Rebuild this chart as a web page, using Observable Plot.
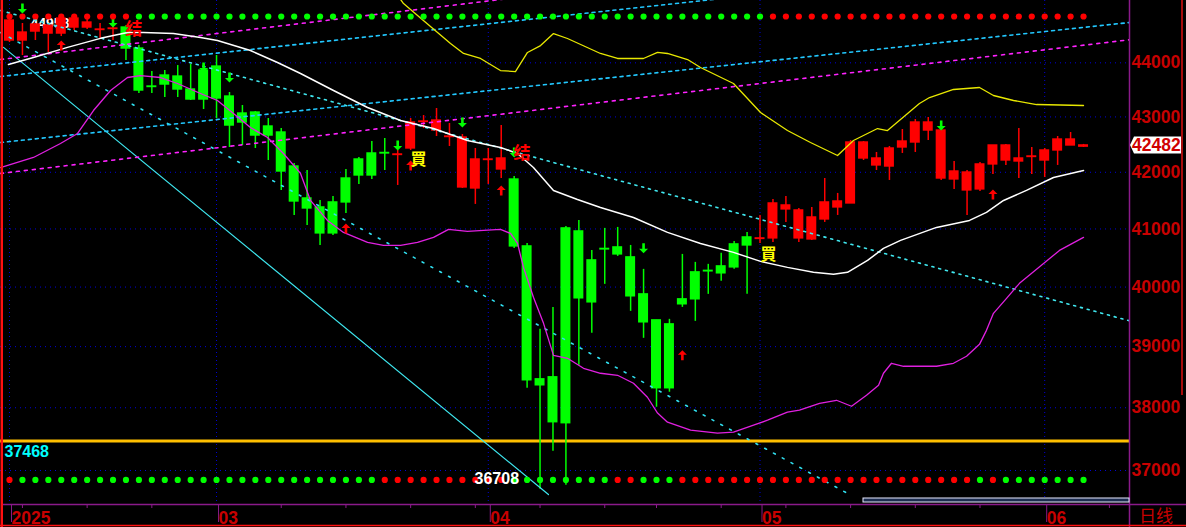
<!DOCTYPE html>
<html><head><meta charset="utf-8">
<script src="https://cdn.jsdelivr.net/npm/d3@7"></script>
<script src="https://cdn.jsdelivr.net/npm/@observablehq/plot@0.6"></script>
<style>
html,body{margin:0;padding:0;background:#000;}
#chart{width:1186px;height:527px;overflow:hidden;}
</style></head><body><div id="chart"></div>
<script>
// ---- daily candles (index 0 = first bar, Feb 2025) ----
const opens  = [44419,44419,44589,44551,44551,44665,44665,44618,44637,44665,44268,43559,43763,43744,43504,43856,43930,43374,43062,43080,42825,42716,42103,41535,41377,41465,41889,42229,42337,42346,42310,42427,42907,42752,42634,41730,41712,42220,42050,41871,40697,38462,38495,41010,40957,40456,40654,40680,40508,39876,39438,39371,39792,40251,40277,40353,40732,40853,40827,40836,41342,40836,40818,41166,41377,41447,42247,42122,42103,42445,42535,42752,41889,41872,41677,41695,42140,42211,42193,42274,42211,42391,42481,42460];
const highs  = [44958,44741,44741,44741,44913,44913,44913,44741,44760,44703,44324,43837,43856,43949,43968,43968,44137,43448,43209,43098,42971,42788,42157,42032,41500,41571,42050,42265,42553,42607,42391,42971,43025,43154,42880,42679,42427,42427,42843,41925,40749,39288,39656,41045,41149,40628,41010,41027,40714,40302,39438,39455,40559,40422,40388,40577,40784,40940,41236,41518,41571,41359,41377,41889,41624,42571,42553,42355,42463,42770,42952,42989,42770,42193,42032,42175,42481,42499,42788,42445,42427,42643,42716,42500];
const lows   = [44381,44137,44419,44194,44494,44608,44627,44438,44419,44043,43430,43430,43356,43356,43301,43135,42970,42445,42481,42427,42211,41677,41236,41062,40714,40888,41271,41783,41872,42032,41765,42391,42788,42643,42463,41712,41430,41783,41889,40662,38316,36708,37304,36770,38692,39221,40046,40525,39589,39138,38008,38251,39656,39421,39876,40097,40302,39876,40749,40766,41114,40766,40801,41114,41236,41447,42211,42032,41854,42337,42355,42571,41854,41695,41236,41659,41961,42122,41889,41961,41907,42122,42481,42445];
const closes = [44798,44570,44722,44703,44836,44836,44760,44627,44646,44268,43485,43550,43596,43504,43319,43319,43338,42843,42898,42661,42661,42014,41482,41359,40923,40923,41465,41943,41943,42337,42319,42898,42916,42934,42643,42625,42229,42229,42247,40697,38446,38364,37767,37751,39809,39741,40645,40559,39843,39405,38316,38316,39708,39792,40268,40234,40336,40714,40836,41447,41412,41324,41201,41465,41482,42535,42535,42247,42427,42553,42898,42898,42752,42014,41996,42140,42481,42481,42247,42283,42391,42589,42589,42482];

// ---- indicator lines: [bar index, value] ----
const maLine = [[-0.08,43968],[1.85,44099],[4.48,44290],[7.03,44460],[9.12,44570],[10.36,44570],[12.67,44551],[14.76,44475],[16.07,44419],[18.62,44231],[20.71,44006],[22.49,43800],[25.04,43485],[27.67,43172],[30.22,42934],[32.77,42788],[35.39,42571],[37.94,42445],[39.26,42337],[40.49,42086],[42.04,41677],[43.89,41518],[45.67,41377],[48.22,41201],[50.85,40940],[53.4,40749],[55.95,40594],[58.04,40439],[60.12,40336],[62.13,40251],[63.68,40217],[64.76,40251],[66.31,40456],[67.54,40662],[68.86,40801],[71.64,41027],[74.19,41149],[75.5,41289],[76.82,41500],[78.59,41677],[80.68,41907],[83,42032]];
const lowerBand = [[-0.7,42085],[1.85,42265],[3.94,42517],[5.26,42698],[6.49,43117],[7.81,43485],[9.12,43726],[10.12,43763],[11.67,43726],[12.98,43615],[14.76,43430],[16.07,43301],[17.31,43062],[18.62,42806],[19.94,42625],[21.17,42337],[22.49,41979],[23.26,41500],[24.57,41149],[25.81,40940],[27.67,40766],[28.9,40714],[30.22,40714],[31.53,40766],[32.77,40853],[33.93,40992],[35.39,40957],[36.63,40975],[37.94,40992],[38.72,40923],[39.26,40749],[39.72,40336],[40.49,39826],[41.27,39388],[42.04,38856],[43.12,38807],[44.36,38643],[45.67,38561],[46.99,38528],[48.22,38397],[49.3,38170],[50.08,37914],[50.85,37767],[52.63,37639],[54.71,37591],[55.95,37607],[57.5,37719],[58.58,37799],[60.12,37928],[61.05,37960],[62.6,38072],[63.91,38121],[65.07,38024],[66.23,38202],[67.16,38364],[67.54,38561],[68.16,38725],[69.09,38676],[71.64,38676],[72.95,38725],[73.96,38841],[74.96,39038],[75.5,39271],[76.04,39556],[77.05,39809],[78.05,40063],[79.37,40302],[81.14,40628],[83,40853]];
const upperBand = [[29.83,45334],[30.45,45123],[31.76,44848],[34.08,44362],[35.09,44175],[36.4,44081],[37.94,43856],[39.1,43837],[40.03,44194],[41.04,44324],[42.04,44551],[43.12,44457],[45.67,44175],[46.99,44081],[48.99,44081],[50.08,44194],[50.85,44175],[52.4,44062],[53.4,43912],[55.95,43615],[58.04,43080],[60.12,42752],[61.9,42535],[63.99,42301],[65.22,42571],[67.08,42788],[67.85,42752],[70.32,43245],[71.1,43356],[72.95,43504],[74.96,43541],[76.04,43393],[77.59,43301],[79.37,43227],[83,43209]];

// ---- straight trend lines: [i1, v1, i2, v2] ----
const trendSolid   = [-0.46,44290,41.65,36624];
const trendDownA   = [-0.6955,44989,86.55,39430];
const trendDownB   = [-0.6955,44570,65.07,36608];
const trendUpC1    = [-0.6955,43745,86.55,46073];
const trendUpC2    = [-0.6955,42534,86.55,44760];
const trendUpD1    = [-0.6955,41979,86.55,44433];
const trendUpD2    = [-0.6955,44062,86.55,46673];
const supportLevel = 37468;

// ---- signal rows (R/G per bar) ----
const topRowLevel = 44875, bottomRowLevel = 36852;
const topRow    = ["RRRRRRRRRR","GGGGGGGGGG","GGGGGGGGGG","GGGGGGGGGG","GGGGGGGGGG","GGGGGGGGGR","RRRRRRRRRR","RRRRRRRRRR","RRRR"].join("").split("");
const bottomRow = ["RGGGGGGGGG","GGGGGGGGGG","GGGGGGGGGR","RRRRRRRRRG","GGGGGGGRRG","GGRRRRRRRR","RRRRRRRRRR","RRRRRGRGGG","GGGG"].join("").split("");

// ---- arrows and signal labels ----
const upArrows   = [[4,44231],[26,40923],[31,42032],[38,41589],[52,38774],[76,41518]];
const downArrows = [[1,44932],[8,44665],[15,43819],[17,43633],[30,42391],[35,42806],[39,42265],[49,40577],[72,42752]];
const buyLabels  = [[31.6,42220],[58.65,40551]];
const sellLabels = [[9.6,44627],[39.6,42328]];

// ---- axes ----
const yTicks = [37000,38000,39000,40000,41000,42000,43000,44000];
const monthIdx = [0,16,37,58,80];
const monthLabels = ["2025","03","04","05","06"];
const weekIdx = [1,6,11,21,26,31,36,41,46,50,55,60,65,70,75,85];

const RED = "#ff0000", GREEN = "#00ff00";
const candles = opens.map((o, i) => ({i, o, h: highs[i], l: lows[i], c: closes[i]}));
const col = d => d.c >= d.o ? RED : GREEN;
const seg = a => [{i: a[0], v: a[1]}, {i: a[2], v: a[3]}];
const pairs = a => a.map(([i, v]) => ({i, v}));
const rowDots = (arr, lvl) => arr.map((k, i) => ({i, v: lvl, c: k === "R" ? RED : GREEN}));
const hiIdx = highs.indexOf(d3.max(highs)), loIdx = lows.indexOf(d3.min(lows));

const arrowShape = {
  draw(context, l) {
    const hw = 4.5, hh = 4.5, sw = 1.3;
    context.moveTo(-sw, 0);
    context.lineTo(-sw, -l + hh);
    context.lineTo(-hw, -l + hh);
    context.lineTo(0, -l);
    context.lineTo(hw, -l + hh);
    context.lineTo(sw, -l + hh);
    context.lineTo(sw, 0);
    context.closePath();
  }
};
function arrows(data, color, up) {
  const d = data.map(([i, v]) => ({i, v}));
  try {
    return Plot.vector(d, {x: "i", y: "v", length: 10, rotate: up ? 0 : 180, anchor: up ? "start" : "end",
      shape: arrowShape, fill: color, stroke: "none"});
  } catch (e) {
    return Plot.text(d, {x: "i", y: "v", text: () => up ? "⬆" : "⬇", fill: color, fontSize: 11,
      lineAnchor: up ? "bottom" : "top", fontFamily: "DejaVu Sans"});
  }
}

const line = (data, stroke, w, extra = {}) => Plot.line(data, {x: "i", y: "v", stroke, strokeWidth: w, clip: true, ...extra});

const plot = Plot.plot({
  width: 1186, height: 527,
  marginLeft: 0, marginRight: 57, marginTop: 0, marginBottom: 23,
  x: {type: "linear", domain: [-0.6955, 86.553]},
  y: {type: "log", domain: [36469, 45181]},
  style: {background: "#000", color: "#c80000", fontFamily: "'Liberation Sans', Arial, sans-serif"},
  marks: [
    Plot.ruleY(yTicks, {stroke: "#0000d8", strokeDasharray: "1,4"}),
    Plot.ruleX(monthIdx, {stroke: "#0000d8", strokeDasharray: "1,3"}),
    Plot.ruleY([supportLevel], {stroke: "#ffbf00", strokeWidth: 3}),
    Plot.text([hiIdx], {x: d => d, y: d => highs[d], text: d => String(highs[d]), dx: 21, dy: 11, textAnchor: "start",
      fill: "#ffffff", fontSize: 14, fontWeight: "bold"}),
    // candles
    Plot.ruleX(candles, {x: "i", y1: "l", y2: "h", stroke: col, strokeWidth: 1.5}),
    Plot.rect(candles, {x1: d => d.i - 0.386, x2: d => d.i + 0.386, y1: "o", y2: "c", fill: col,
      insetTop: -0.7, insetBottom: -0.7}),
    // trend lines
    line(seg(trendSolid), "#3ee6ee", 1.2),
    line(seg(trendDownA), "#40e8f0", 1.6, {strokeDasharray: "2,5"}),
    line(seg(trendDownB), "#30e0f0", 1.6, {strokeDasharray: "2,8"}),
    line(seg(trendUpC1), "#22c8ff", 1.6, {strokeDasharray: "3,4"}),
    line(seg(trendUpC2), "#22c8ff", 1.6, {strokeDasharray: "3,4"}),
    line(seg(trendUpD1), "#ff22ff", 1.6, {strokeDasharray: "3,5"}),
    line(seg(trendUpD2), "#ff22ff", 1.6, {strokeDasharray: "3,5"}),
    // indicator lines
    line(pairs(upperBand), "#e8e800", 1.3),
    line(pairs(lowerBand), "#e020e0", 1.3),
    line(pairs(maLine), "#ffffff", 1.5),
    // arrows & signals
    arrows(upArrows, RED, true),
    arrows(downArrows, GREEN, false),
    Plot.text(buyLabels, {x: d => d[0], y: d => d[1], text: () => "買", fill: "#ffff00", fontSize: 16,
      fontWeight: "bold", fontFamily: "'Noto Sans CJK TC'"}),
    Plot.text(sellLabels, {x: d => d[0], y: d => d[1], text: () => "结", fill: RED, fontSize: 17,
      fontWeight: "bold", fontFamily: "'Noto Sans CJK SC'"}),
    // signal dot rows
    Plot.dot(rowDots(topRow, topRowLevel), {x: "i", y: "v", r: 3.1, fill: "c", stroke: "none"}),
    Plot.dot(rowDots(bottomRow, bottomRowLevel), {x: "i", y: "v", r: 3.1, fill: "c", stroke: "none"}),
    // labels
    Plot.text([loIdx], {x: d => d, y: d => lows[d], text: d => String(lows[d]), dx: -21, dy: -10, textAnchor: "end",
      fill: "#ffffff", fontSize: 16, fontWeight: "bold"}),
    Plot.text([supportLevel], {frameAnchor: "left", y: d => d, text: d => String(d), dx: 4, dy: 11, textAnchor: "start",
      fill: "#00ffff", fontSize: 16, fontWeight: "bold"}),
    // axes
    Plot.axisY(yTicks, {anchor: "right", tickSize: 0, tickPadding: 2, tickFormat: d => String(d), label: null,
      fill: "#c80000", fontSize: 17.5, fontWeight: "bold"}),
    Plot.axisX(weekIdx, {anchor: "bottom", tickSize: 4, stroke: "#8a1a8a", tickFormat: () => "", label: null}),
    Plot.axisX(monthIdx, {anchor: "bottom", tickSize: 18, stroke: "#8a1a8a", tickPadding: -11, textAnchor: "start", dx: 2,
      tickFormat: d => monthLabels[monthIdx.indexOf(d)], label: null, fill: "#c80000", fontSize: 17.5, fontWeight: "bold"})
  ]
});

document.getElementById("chart").appendChild(plot);

// ---- chrome drawn with the plot's own scales ----
const svg = d3.select(plot);
const xs = plot.scale("x"), ys = plot.scale("y");
const W = 1186, H = 527;
const right = xs.range[1], bottom = ys.range[0];
const g = svg.append("g").attr("text-anchor", "start");
g.append("line").attr("x1", 3).attr("x2", W).attr("y1", bottom + 0.5).attr("y2", bottom + 0.5).attr("stroke", "#8a1a8a").attr("stroke-width", 1.5);
g.append("line").attr("x1", right + 0.5).attr("x2", right + 0.5).attr("y1", 0).attr("y2", H).attr("stroke", "#8a1a8a").attr("stroke-width", 1.5);
g.append("line").attr("x1", 1.8).attr("x2", 1.8).attr("y1", 0).attr("y2", H).attr("stroke", "#ff1010").attr("stroke-width", 2.4);
g.append("line").attr("x1", 0).attr("x2", W).attr("y1", H - 1.5).attr("y2", H - 1.5).attr("stroke", "#ff1010").attr("stroke-width", 1.5);
g.append("line").attr("x1", 1182).attr("x2", 1182).attr("y1", 0).attr("y2", 395).attr("stroke", "#e01010").attr("stroke-width", 1.5);
g.append("rect").attr("x", 863).attr("y", bottom - 6).attr("width", right - 863).attr("height", 4)
  .attr("fill", "#1c2c50").attr("stroke", "#e8eaff").attr("stroke-width", 1);
// last price tag
const lastY = ys.apply(closes[closes.length - 1]);
g.append("polygon").attr("points", [[right + 1, lastY], [right + 5, lastY - 8.5], [1181, lastY - 8.5], [1181, lastY + 8.5], [right + 5, lastY + 8.5]].map(p => p.join(",")).join(" "))
  .attr("fill", "#ffffff");
g.append("text").attr("x", right + 3).attr("y", lastY).attr("dy", "0.36em").attr("fill", "#d00000")
  .attr("text-anchor", "start")
  .attr("font-size", 17.5).attr("font-weight", "bold").attr("font-family", "'Liberation Sans', Arial, sans-serif")
  .text(String(closes[closes.length - 1]));
g.append("text").attr("x", 1139).attr("y", 522).attr("fill", "#c80000").attr("font-size", 17)
  .attr("text-anchor", "start")
  .attr("font-family", "'Noto Sans CJK SC'").text("日线");
</script></body></html>
